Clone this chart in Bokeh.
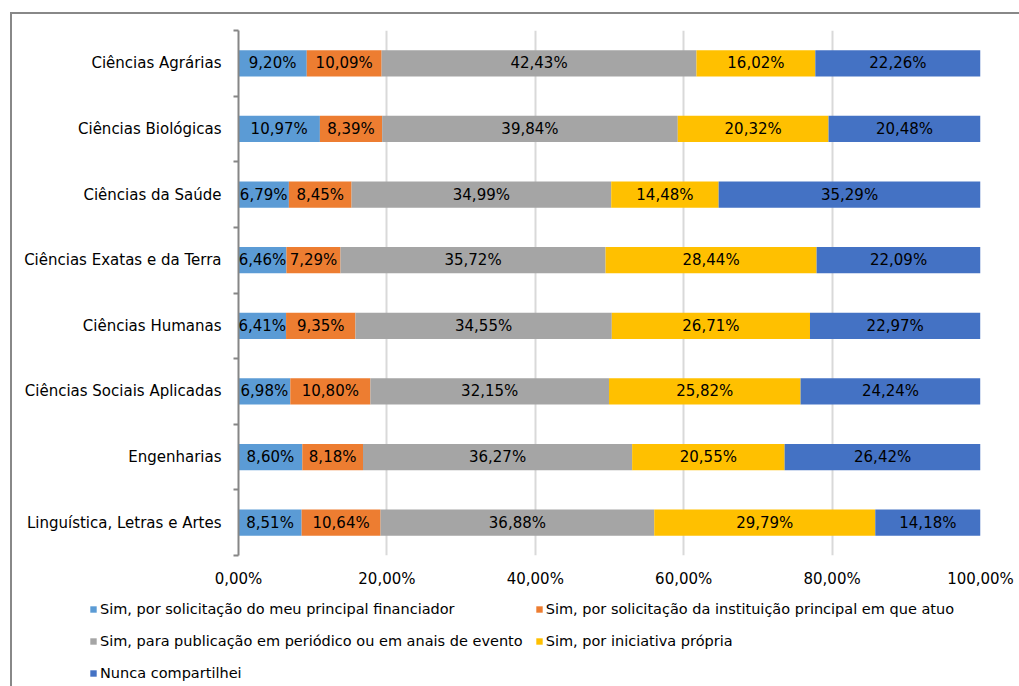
from bokeh.plotting import figure
from bokeh.layouts import column
from bokeh.models import (Range1d, FixedTicker, ColumnDataSource, LabelSet, Legend,
                          LegendItem, CustomJSTickFormatter, InlineStyleSheet)
from bokeh.core.properties import value
from bokeh.embed import file_html
from bokeh.resources import INLINE

categories = ["Ciências Agrárias", "Ciências Biológicas", "Ciências da Saúde",
              "Ciências Exatas e da Terra", "Ciências Humanas",
              "Ciências Sociais Aplicadas", "Engenharias", "Linguística, Letras e Artes"]
series_names = ["Sim, por solicitação do meu principal financiador",
                "Sim, por solicitação da instituição principal em que atuo",
                "Sim, para publicação em periódico ou em anais de evento",
                "Sim, por iniciativa própria",
                "Nunca compartilhei"]
financiador = [9.20, 10.97, 6.79, 6.46, 6.41, 6.98, 8.60, 8.51]
instituicao = [10.09, 8.39, 8.45, 7.29, 9.35, 10.80, 8.18, 10.64]
publicacao = [42.43, 39.84, 34.99, 35.72, 34.55, 32.15, 36.27, 36.88]
iniciativa = [16.02, 20.32, 14.48, 28.44, 26.71, 25.82, 20.55, 29.79]
nunca = [22.26, 20.48, 35.29, 22.09, 22.97, 24.24, 26.42, 14.18]
x_ticks = [0, 20, 40, 60, 80, 100]

colors = ["#5B9BD5", "#ED7D31", "#A5A5A5", "#FFC000", "#4472C4"]
series = [financiador, instituicao, publicacao, iniciativa, nunca]
FONT = "DejaVu Sans"
FS = "15px"
FS_LEG = "14.5px"

W = 1019
H_MAIN, H_LEG = 592, 94
p = figure(width=W, height=H_MAIN, output_backend="svg", toolbar_location=None,
           x_range=Range1d(0, 100), y_range=Range1d(len(categories), 0),
           min_border_left=238, min_border_right=39, min_border_top=30,
           min_border_bottom=37)
p.frame_align = False
p.outline_line_color = None
p.background_fill_color = "white"
p.border_fill_color = "white"

ypos = [i + 0.5 for i in range(len(categories))]
lefts = [0.0] * len(categories)
for vals, col in zip(series, colors):
    rights = [l + v for l, v in zip(lefts, vals)]
    mids = [(l + r) / 2 for l, r in zip(lefts, rights)]
    src = ColumnDataSource(dict(y=ypos, left=lefts, right=rights, mid=mids,
                                txt=[("%.2f%%" % v).replace(".", ",") for v in vals]))
    p.hbar(y="y", left="left", right="right", height=0.4, source=src,
           fill_color=col, line_color=None)
    p.add_layout(LabelSet(x="mid", y="y", text="txt", source=src,
                          text_align="center", text_baseline="middle",
                          text_font=value(FONT), text_font_size=FS,
                          text_color="black"))
    lefts = rights

# x axis
p.xaxis.ticker = FixedTicker(ticks=x_ticks)
p.xaxis.formatter = CustomJSTickFormatter(code="return tick.toFixed(2).replace('.', ',') + '%';")
p.xaxis.axis_line_color = None
p.xaxis.major_tick_line_color = None
p.xaxis.minor_tick_line_color = None
p.xaxis.major_label_text_font = FONT
p.xaxis.major_label_text_font_size = FS
p.xaxis.major_label_text_color = "black"
p.xaxis.major_label_standoff = 8

p.xgrid.ticker = FixedTicker(ticks=x_ticks)
p.xgrid.grid_line_color = "#D9D9D9"
p.xgrid.grid_line_width = 2
p.ygrid.grid_line_color = None

# y axis: labels at centers, tick marks at band boundaries
p.yaxis.ticker = FixedTicker(ticks=ypos, minor_ticks=list(range(len(categories) + 1)))
p.yaxis.major_label_overrides = {y: c for y, c in zip(ypos, categories)}
p.yaxis.axis_line_color = "#868686"
p.yaxis.axis_line_width = 2
p.yaxis.major_tick_line_color = None
p.yaxis.major_tick_out = 0
p.yaxis.major_tick_in = 0
p.yaxis.minor_tick_line_color = "#868686"
p.yaxis.minor_tick_line_width = 2
p.yaxis.minor_tick_out = 5
p.yaxis.minor_tick_in = 0
p.yaxis.major_label_text_font = FONT
p.yaxis.major_label_text_font_size = FS
p.yaxis.major_label_text_color = "black"
p.yaxis.major_label_standoff = 12

# legend strip below the chart (proxy renderers lie outside its visible range)
pl = figure(width=W, height=H_LEG, output_backend="svg", toolbar_location=None,
            x_range=Range1d(0, 1), y_range=Range1d(0, 1),
            x_axis_type=None, y_axis_type=None, min_border=0)
pl.frame_align = False
pl.outline_line_color = None
pl.grid.visible = False
pl.background_fill_color = "white"
pl.border_fill_color = "white"
items = []
for col, name in zip(colors, series_names):
    r = pl.hbar(y=[-5], left=[-5], right=[-4], height=0.4, fill_color=col, line_color=None)
    items.append(LegendItem(label=name, renderers=[r], index=0))
legend = Legend(items=items, orientation="horizontal", ncols=2, location=(89, 3),
                label_text_font=FONT, label_text_font_size=FS_LEG,
                label_text_color="black", glyph_width=8, glyph_height=8,
                label_height=20, spacing=12, padding=0, margin=0,
                label_standoff=3, border_line_color=None,
                background_fill_alpha=0)
pl.add_layout(legend, "center")

layout = column(p, pl, spacing=0)
# chart-area frame (its right and bottom sides lie outside the picture)
layout.stylesheets = [InlineStyleSheet(css="""
:host::after { content: ""; position: absolute; left: 10px; top: 12px;
  right: 0px; bottom: 0px; border-left: 2px solid #888888;
  border-top: 2px solid #888888; pointer-events: none; z-index: 100; }
""")]

open("out.html", "w").write(file_html(layout, INLINE))
